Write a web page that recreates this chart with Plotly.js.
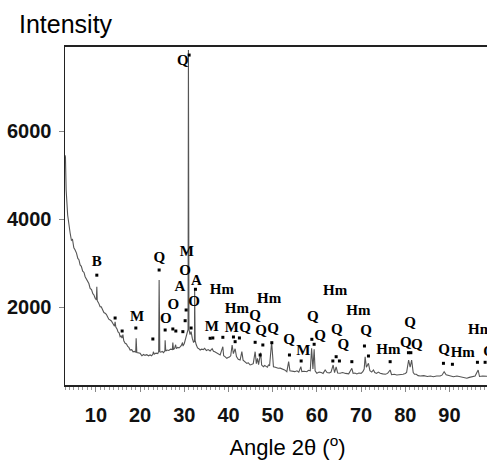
<!DOCTYPE html>
<html>
<head>
<meta charset="utf-8">
<script src="https://cdn.plot.ly/plotly-3.0.1.min.js"></script>
<style>
html, body { margin: 0; padding: 0; overflow: hidden; background: #fff; }
#chart { width: 510px; height: 470px; }
</style>
</head>
<body>
<div id="chart"></div>
<script>
// XRD pattern: angle 2θ (degrees) and intensity (counts)
const angle = [
  3.0, 3.1, 3.26, 3.6, 4.16, 4.45, 4.7, 5.0, 5.29, 5.6, 5.9, 6.15, 6.42, 6.7, 7.0, 7.3, 7.56, 7.85,
  8.1, 8.4, 8.69, 9.0, 9.3, 9.55, 9.82, 10.1, 10.2, 10.3, 10.6, 10.95, 11.2, 11.5, 11.8, 12.08, 12.35, 12.6,
  12.9, 13.21, 13.5, 13.8, 14.2, 14.34, 14.5, 14.8, 15.0, 15.25, 15.48, 15.7, 15.9, 16.1, 16.3, 16.61,
  16.9, 17.2, 17.45, 17.74, 18.1, 18.4, 18.7, 19.0, 19.1, 19.25, 19.6, 20.0, 20.4, 20.8, 21.1, 21.5,
  21.9, 22.26, 22.6, 22.9, 23.0, 23.2, 23.6, 24.0, 24.2, 24.3, 24.45, 24.7, 25.0, 25.3, 25.6, 25.66,
  25.8, 26.1, 26.5, 26.9, 27.3, 27.4, 27.55, 27.8, 28.04, 28.2, 28.5, 28.8, 29.05, 29.3, 29.6, 29.7,
  30.0, 30.2, 30.5, 30.7, 30.85, 30.93, 31.05, 31.3, 31.54, 31.8, 32.1, 32.3, 32.34, 32.45, 32.7, 33.0,
  33.3, 33.58, 33.9, 34.3, 34.6, 35.0, 35.4, 35.84, 36.3, 36.6, 36.9, 37.3, 37.7, 38.11, 38.72, 38.9,
  39.2, 39.62, 39.9, 40.2, 40.5, 40.82, 41.1, 41.5, 41.8, 42.2, 42.63, 43.02, 43.3, 43.7, 44.15, 44.5,
  44.9, 45.2, 45.6, 46.03, 46.3, 46.55, 46.8, 47.27, 47.5, 47.9, 48.2, 48.5, 48.8, 49.04, 49.3, 49.76,
  50.0, 50.17, 50.6, 51.23, 51.7, 52.2, 52.7, 53.2, 53.61, 53.9, 54.4, 55.0, 55.5, 55.9, 56.37, 56.6,
  57.1, 57.73, 58.1, 58.5, 58.81, 59.1, 59.38, 59.6, 59.99, 60.5, 61.0, 61.4, 61.87, 62.3, 62.8, 63.2,
  63.68, 64.0, 64.36, 64.7, 65.26, 65.8, 66.5, 67.2, 67.91, 68.2, 68.6, 69.04, 69.5, 70.0, 70.4, 70.7,
  70.92, 71.2, 71.67, 72.0, 72.4, 72.8, 73.1, 73.5, 73.9, 74.32, 74.9, 75.5, 76.0, 76.58, 76.9, 77.5,
  78.09, 78.8, 79.5, 80.0, 80.3, 80.76, 81.1, 81.44, 81.8, 82.1, 82.5, 82.9, 83.37, 84.2, 85.0, 85.7,
  86.37, 87.1, 87.89, 88.3, 88.8, 89.25, 90.0, 90.9, 91.7, 92.5, 93.2, 93.93, 94.5, 95.0, 95.8, 96.49,
  96.8, 97.5, 98.46, 99.2, 100.0, 101.5, 103.7
];
const intensity = [
  5450, 5410, 4660, 4095, 3686, 3520, 3540, 3350, 3300, 3230, 3110, 3080, 2960, 2930, 2820, 2790, 2694, 2640,
  2560, 2540, 2430, 2400, 2310, 2280, 2204, 2170, 2468, 2150, 2100, 2014, 2010, 1950, 1880, 1864, 1840, 1790,
  1730, 1712, 1690, 1640, 1570, 1673, 1550, 1500, 1440, 1420, 1333, 1350, 1300, 1380, 1240, 1183,
  1170, 1110, 1090, 1031, 1040, 990, 1000, 980, 1297, 975, 960, 956, 900, 930, 910, 925,
  900, 918, 900, 940, 990, 935, 960, 950, 1000, 2620, 990, 980, 1000, 970, 1010, 1250,
  1010, 1030, 1020, 1050, 1040, 1200, 1040, 1070, 1150, 1060, 1090, 1080, 1100, 1130, 1200, 1120,
  1180, 1250, 1380, 1450, 1500, 7838, 1500, 1380, 1450, 1300, 1200, 1250, 2393, 1250, 1150, 1080,
  1060, 1031, 1050, 1040, 1070, 1020, 1040, 1010, 1060, 1000, 990, 960, 950, 918, 1106, 900,
  880, 843, 860, 870, 900, 1145, 950, 1060, 880, 820, 804, 993, 800, 760, 729, 740,
  691, 700, 720, 993, 720, 843, 700, 970, 690, 652, 680, 660, 640, 691, 680, 1213,
  700, 652, 640, 616, 620, 600, 580, 539, 766, 560, 550, 540, 560, 530, 652, 540,
  550, 539, 570, 560, 1070, 600, 1050, 560, 503, 530, 520, 500, 577, 520, 510, 530,
  691, 520, 650, 510, 503, 520, 500, 490, 616, 500, 510, 487, 510, 500, 540, 600,
  879, 640, 729, 560, 530, 577, 520, 500, 530, 503, 490, 480, 500, 577, 470, 480,
  464, 470, 480, 500, 520, 804, 640, 800, 520, 480, 480, 450, 441, 450, 430, 440,
  425, 440, 440, 460, 539, 470, 450, 425, 440, 420, 410, 389, 410, 420, 440, 577,
  430, 440, 425, 430, 420, 430, 420
];

// phase labels (B, M, Q, O, A, Hm) and their positions
const labelText = ["B", "M", "Q", "O", "O", "A", "O", "M", "A", "O", "Q",
  "M", "Hm", "M", "Hm", "Q", "Q", "Hm", "Q", "Q", "Q", "M", "Q", "Q", "Hm", "Q", "Q",
  "Hm", "Q", "Hm", "Q", "Q", "Q", "Q", "Hm", "Hm", "Q"];
const labelAngle = [10.16, 19.32, 24.37, 25.82, 27.54, 28.99, 30.19, 30.57, 32.74, 32.21, 29.66,
  36.23, 38.49, 40.75, 41.88, 43.76, 46.0, 49.2, 47.4, 50.1, 53.72, 56.96, 59.08, 60.74, 64.13, 64.51, 66.0,
  69.4, 71.14, 76.19, 80.13, 81.1, 82.62, 88.78, 93.02, 96.94, 98.98];
const labelIntensity = [3028, 1780, 3119, 1735, 2052, 2460, 2808, 3239, 2581, 2105, 7574,
  1546, 2393, 1524, 1962, 1524, 1800, 2188, 1460, 1496, 1242, 993, 1773, 1349, 2353, 1485, 1145,
  1900, 1447, 1015, 1183, 1637, 1145, 1015, 956, 1485, 970];

// peak marker dots
const dotAngle = [10.2, 14.34, 15.93, 19.03, 22.88, 24.3, 25.66, 27.4, 28.08, 29.67, 30.19, 30.41, 31.54, 32.52, 31.09,
  35.84, 36.45, 38.72, 41.12, 41.5, 42.47, 46.03, 47.16, 47.77, 49.8, 53.79, 56.44, 58.86, 59.38,
  63.61, 64.36, 65.1, 67.91, 70.76, 71.67, 76.58, 80.72, 81.26, 88.64, 90.67, 96.33, 98.07];
const dotIntensity = [2729, 1757, 1462, 1530, 1281, 2846, 1485, 1508, 1462, 1447, 1696, 1939, 1530, 2409, 7723,
  1297, 1304, 1319, 1326, 1220, 1304, 1206, 918, 1145, 1197, 918, 782, 1274, 1161,
  782, 879, 782, 766, 1122, 895, 766, 970, 970, 729, 707, 752, 752];

const xTicks = [10, 20, 30, 40, 50, 60, 70, 80, 90];
const yTicks = [2000, 4000, 6000];

const tickFontFamily = "'Liberation Sans', Arial, sans-serif";

const traces = [
  {
    x: angle, y: intensity, type: "scatter", mode: "lines",
    line: { color: "#555", width: 1.1 }, hoverinfo: "skip"
  },
  {
    x: dotAngle, y: dotIntensity, type: "scatter", mode: "markers",
    marker: { symbol: "square", size: 3, color: "#000" }, hoverinfo: "skip"
  },
  {
    x: labelAngle, y: labelIntensity, type: "scatter", mode: "text",
    text: labelText, textposition: "middle center",
    textfont: { family: "'Liberation Serif', 'Times New Roman', serif", size: 15, color: "#000", weight: 700 },
    hoverinfo: "skip", cliponaxis: false
  }
];

const layout = {
  width: 510, height: 470,
  margin: { l: 65, r: 0, t: 47, b: 85 },
  paper_bgcolor: "#fff", plot_bgcolor: "#fff",
  showlegend: false,
  xaxis: {
    range: [3, 103.7], showgrid: false, zeroline: false,
    showline: true, linecolor: "#222", linewidth: 2, mirror: true,
    ticks: "outside", ticklen: 5, tickcolor: "#888", tickwidth: 1,
    tickvals: xTicks, ticklabelstandoff: 6,
    minor: { dtick: 1, ticks: "outside", ticklen: 3, tickcolor: "#999", tickwidth: 1 },
    tickfont: { family: tickFontFamily, size: 20, color: "#111", weight: 700 },
    title: { text: "Angle 2θ (<sup>o</sup>)", font: { family: "'Liberation Sans', Arial, sans-serif", size: 22, color: "#000" }, standoff: 15 }
  },
  yaxis: {
    range: [237, 7906], showgrid: false, zeroline: false,
    showline: true, linecolor: "#222", linewidth: 1.5,
    ticks: "outside", ticklen: 5, tickcolor: "#888", tickwidth: 1,
    tickvals: yTicks, ticklabelstandoff: 3,
    tickfont: { family: tickFontFamily, size: 20, color: "#111", weight: 700 }
  },
  annotations: [{
    text: "Intensity", xref: "paper", yref: "paper",
    x: (17 - 65) / 445, y: (385 - 24) / 338, xanchor: "left", yanchor: "middle",
    showarrow: false,
    font: { family: "'Liberation Sans', Arial, sans-serif", size: 25, color: "#000" }
  }]
};

Plotly.newPlot("chart", traces, layout, { staticPlot: true, displayModeBar: false });
</script>
</body>
</html>
